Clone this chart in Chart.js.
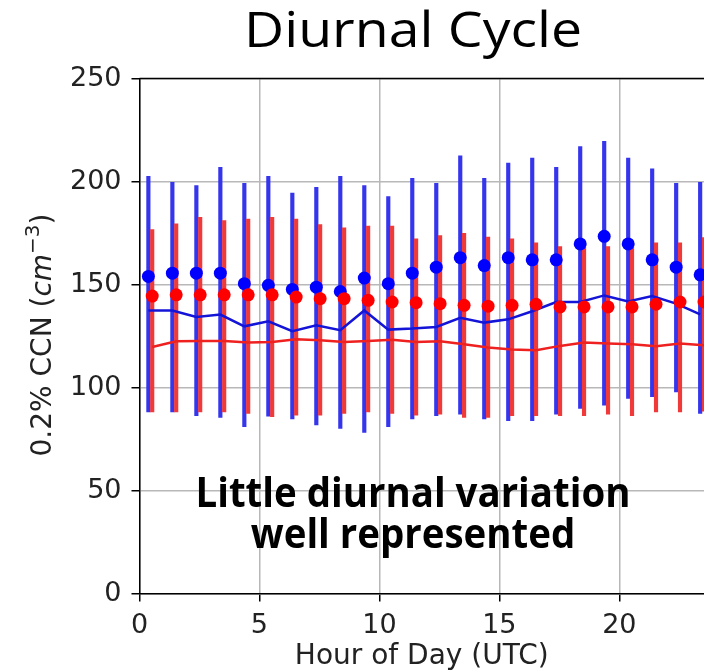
<!DOCTYPE html>
<html>
<head>
<meta charset="utf-8">
<script src="https://cdn.jsdelivr.net/npm/chart.js@4/dist/chart.umd.min.js"></script>
<style>
  html, body { margin: 0; padding: 0; background: #fff; }
  #wrap { width: 704px; height: 672px; }
  canvas { display: block; }
</style>
</head>
<body>
<div id="wrap"><canvas id="ccnChart" width="704" height="672"></canvas></div>
<script>
// hour of day (UTC)
const hours = [0, 1, 2, 3, 4, 5, 6, 7, 8, 9, 10, 11, 12, 13, 14, 15, 16, 17, 18, 19, 20, 21, 22, 23];
const xTicks = [0, 5, 10, 15, 20];
const yTicks = [0, 50, 100, 150, 200, 250];

// blue series (observed)
const blueMean = [153.9, 155.5, 155.5, 155.5, 150.4, 149.6, 147.6, 148.7, 146.6, 153.1, 150.4, 155.5,
                  158.4, 163.0, 159.2, 163.0, 162.0, 162.0, 169.7, 173.4, 169.7, 162.0, 158.4, 154.7];
const blueLow = [88.2, 88.2, 86.3, 85.5, 81.0, 86.1, 84.7, 81.8, 80.1, 78.2, 81.0, 84.7,
                 86.3, 87.1, 84.7, 83.9, 83.9, 87.1, 89.8, 91.4, 94.7, 95.5, 97.9, 87.4];
const blueHigh = [202.5, 199.6, 198.0, 206.9, 199.1, 202.5, 194.4, 197.2, 202.5, 198.0, 192.7, 201.5,
                  199.1, 212.5, 201.5, 209.0, 211.4, 206.9, 216.9, 219.5, 211.4, 206.1, 199.1, 199.6];
const blueMedian = [137.4, 137.4, 134.2, 135.4, 129.7, 132.1, 127.3, 130.2, 127.8, 137.4, 128.1, 128.6,
                    129.4, 133.8, 131.5, 133.1, 137.0, 141.5, 141.5, 144.7, 141.8, 144.4, 140.7, 135.5];

// red series (model)
const redMean = [144.4, 145.0, 145.0, 145.0, 145.0, 145.0, 143.9, 143.1, 143.1, 142.3, 141.5, 141.2,
                 140.7, 139.9, 139.5, 139.9, 140.4, 139.1, 139.1, 139.1, 139.1, 140.4, 141.5, 141.5];
const redLow = [88.2, 88.2, 88.2, 88.2, 87.4, 85.8, 86.6, 86.6, 87.4, 88.2, 87.4, 86.6,
                87.1, 85.5, 85.5, 86.3, 86.3, 86.3, 86.3, 87.1, 86.3, 88.2, 88.2, 88.5];
const redHigh = [176.7, 179.4, 182.6, 181.0, 181.8, 182.6, 181.8, 179.1, 177.5, 178.3, 178.3, 172.2,
                 173.8, 174.9, 173.0, 172.2, 170.2, 168.4, 168.1, 168.4, 168.1, 170.2, 170.2, 172.8];
const redMedian = [119.7, 122.4, 122.6, 122.6, 121.8, 122.1, 123.4, 122.9, 122.1, 122.6, 123.2, 122.1,
                   122.4, 121.0, 119.4, 118.4, 118.1, 120.2, 121.8, 121.3, 121.0, 120.0, 121.3, 120.5];

// small hour shift so the two series sit side by side
const blueShift = 0.37;
const redShift = 0.53;

const BLUE = '#0000ff';
const RED = '#ff0000';

const bx = hours.map(h => h + blueShift);
const rx = hours.map(h => h + redShift);

// draw a line of text squeezed/stretched to a given width
function fitText(ctx, txt, cx, y, width) {
  const w = ctx.measureText(txt).width;
  ctx.save();
  ctx.translate(cx, y);
  ctx.scale(width / w, 1);
  ctx.fillText(txt, 0, 0);
  ctx.restore();
  return width / w;
}

// texts drawn on the canvas: title, y label with italics/superscript, note
const textPlugin = {
  id: 'texts',
  afterDraw(chart) {
    const ctx = chart.ctx;
    const area = chart.chartArea;
    ctx.save();

    // top spine
    ctx.strokeStyle = '#000';
    ctx.lineWidth = 1.5;
    ctx.beginPath();
    ctx.moveTo(area.left, area.top);
    ctx.lineTo(area.right, area.top);
    ctx.stroke();

    // title
    ctx.fillStyle = '#000';
    ctx.textAlign = 'center';
    ctx.textBaseline = 'alphabetic';
    ctx.font = '49px "Open Sans"';
    fitText(ctx, 'Diurnal Cycle', 413, 47, 338);

    // note
    ctx.font = 'bold 41px "Open Sans"';
    const k = fitText(ctx, 'Little diurnal variation', 413, 507, 435);
    const w2 = ctx.measureText('well represented').width * k;
    fitText(ctx, 'well represented', 413, 548, w2);

    // y axis label: 0.2% CCN (cm^-3)
    const fs = 28;
    const parts = [
      { t: '0.2% CCN (', f: fs + 'px "DejaVu Sans"', dy: 0 },
      { t: 'cm', f: 'italic ' + fs + 'px "DejaVu Sans"', dy: 0 },
      { t: '\u22123', f: Math.round(fs * 0.7) + 'px "DejaVu Sans"', dy: -fs * 0.42 },
      { t: ')', f: fs + 'px "DejaVu Sans"', dy: 0 }
    ];
    let total = 0;
    parts.forEach(p => { ctx.font = p.f; p.w = ctx.measureText(p.t).width; total += p.w; });
    ctx.translate(41, 335);
    ctx.rotate(-Math.PI / 2);
    ctx.textAlign = 'left';
    ctx.fillStyle = '#222';
    let x = -total / 2;
    parts.forEach(p => {
      ctx.font = p.f;
      ctx.fillText(p.t, x, fs * 0.36 + p.dy);
      x += p.w;
    });
    ctx.restore();
  }
};

const ctx = document.getElementById('ccnChart').getContext('2d');
const ccnChart = new Chart(ctx, {
  type: 'line',
  data: {
    datasets: [
      {
        type: 'line', label: 'red mean',
        data: rx.map((x, i) => ({ x: x, y: redMean[i] })),
        showLine: false, pointRadius: 6.5, pointHoverRadius: 6.5,
        pointBackgroundColor: RED, pointBorderWidth: 0, borderColor: RED,
        order: 0, clip: 0
      },
      {
        type: 'line', label: 'blue mean',
        data: bx.map((x, i) => ({ x: x, y: blueMean[i] })),
        showLine: false, pointRadius: 6.5, pointHoverRadius: 6.5,
        pointBackgroundColor: BLUE, pointBorderWidth: 0, borderColor: BLUE,
        order: 1, clip: 0
      },
      {
        type: 'line', label: 'blue median',
        data: bx.map((x, i) => ({ x: x, y: blueMedian[i] })),
        borderColor: '#1414d8', borderWidth: 2.5, pointRadius: 0, tension: 0,
        order: 2, clip: 0
      },
      {
        type: 'line', label: 'red median',
        data: rx.map((x, i) => ({ x: x, y: redMedian[i] })),
        borderColor: '#ee2020', borderWidth: 2.5, pointRadius: 0, tension: 0,
        order: 3, clip: 0
      },
      {
        type: 'bar', label: 'red range',
        data: rx.map((x, i) => ({ x: x, y: [redLow[i], redHigh[i]] })),
        backgroundColor: '#f03a3a', borderWidth: 0, barThickness: 3.5, grouped: false,
        order: 4, clip: 0
      },
      {
        type: 'bar', label: 'blue range',
        data: bx.map((x, i) => ({ x: x, y: [blueLow[i], blueHigh[i]] })),
        backgroundColor: '#3535ee', borderWidth: 0, barThickness: 3.5, grouped: false,
        order: 5, clip: 0
      }
    ]
  },
  options: {
    responsive: false,
    animation: false,
    layout: { autoPadding: false, padding: { top: 78.5, right: 0, left: 0, bottom: 0 } },
    plugins: {
      legend: { display: false },
      tooltip: { enabled: false },
      title: { display: false }
    },
    scales: {
      x: {
        type: 'linear',
        min: 0,
        max: 23.53,
        offset: false,
        afterBuildTicks: s => { s.ticks = xTicks.map(v => ({ value: v })); },
        afterFit: s => { s.height = 78.5; s.paddingLeft = 0; s.paddingRight = 0; },
        grid: { offset: false, color: '#b8b8b8', lineWidth: 1.5, tickColor: '#000', tickLength: 8, tickWidth: 1.5 },
        border: { color: '#000', width: 1.5 },
        ticks: { color: '#222', font: { family: 'DejaVu Sans', size: 27 }, padding: 8, maxRotation: 0 },
        title: {
          display: true, text: 'Hour of Day (UTC)', color: '#222',
          font: { family: 'DejaVu Sans', size: 28 }, padding: { top: 0, bottom: -2 }
        }
      },
      y: {
        min: 0,
        max: 250,
        afterBuildTicks: s => { s.ticks = yTicks.map(v => ({ value: v })); },
        afterFit: s => { s.width = 139.5; },
        grid: { color: '#b8b8b8', lineWidth: 1.5, tickColor: '#000', tickLength: 8, tickWidth: 1.5 },
        border: { color: '#000', width: 1.5 },
        ticks: { color: '#222', font: { family: 'DejaVu Sans', size: 27 }, padding: 10 }
      }
    }
  },
  plugins: [textPlugin]
});
</script>
</body>
</html>
